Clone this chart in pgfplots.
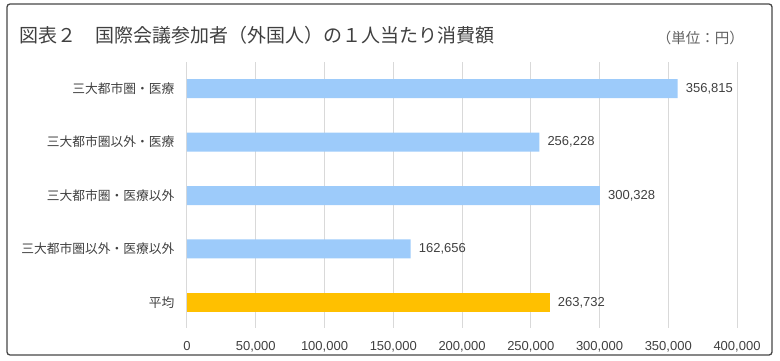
\documentclass[border=0pt]{standalone}
\usepackage{fontspec}
\usepackage{pgfplots}
\pgfplotsset{compat=1.18}
\setmainfont{Liberation Sans}
\newfontfamily\cjk{Noto Sans CJK JP}
\definecolor{barblue}{HTML}{9DCBFA}
\definecolor{barorange}{HTML}{FFC000}
\definecolor{txt}{HTML}{404040}
\definecolor{gridc}{HTML}{D9D9D9}
\begin{document}
\begin{tikzpicture}[x=1pt,y=1pt]
\path[use as bounding box] (0,0) rectangle (780,360);
\draw[color=black!72, line width=1.3pt, rounded corners=3pt] (7,5) rectangle (772,356);
\node[anchor=west, text=txt, inner sep=0pt, font=\cjk\fontsize{19}{22}\selectfont] at (19,325) {図表２　国際会議参加者（外国人）の１人当たり消費額};
\node[anchor=east, text=black!62, inner sep=0pt, font=\cjk\fontsize{14.5}{16}\selectfont] at (744,322) {（単位：円）};
\begin{axis}[at={(187pt,32pt)}, anchor=south west, scale only axis, width=550pt, height=266pt,
  xbar, bar width=19pt, bar shift=0pt,
  xmin=0, xmax=400000, ymin=-0.5, ymax=4.48, y dir=reverse,
  xtick={0,50000,100000,150000,200000,250000,300000,350000,400000},
  xticklabels={0,{50,000},{100,000},{150,000},{200,000},{250,000},{300,000},{350,000},{400,000}},
  scaled x ticks=false,
  xticklabel style={font=\fontsize{13}{15}\selectfont, text=txt, yshift=-10pt},
  ytick={0,1,2,3,4},
  yticklabels={三大都市圏・医療, 三大都市圏以外・医療, 三大都市圏・医療以外, 三大都市圏以外・医療以外, 平均},
  yticklabel style={font=\cjk\fontsize{12.75}{14}\selectfont, text=txt, xshift=-9pt},
  axis line style={draw=none},
  major tick length=0pt,
  xmajorgrids, grid style={gridc, line width=1pt},
]
\addplot[fill=barblue, draw=none] coordinates {(356815,0) (256228,1) (300328,2) (162656,3)};
\addplot[fill=barorange, draw=none] coordinates {(263732,4)};
\node[anchor=west, font=\fontsize{13}{15}\selectfont, text=txt, inner sep=0pt] at (axis cs:356815,0) {\hspace{8pt}356,815};
\node[anchor=west, font=\fontsize{13}{15}\selectfont, text=txt, inner sep=0pt] at (axis cs:256228,1) {\hspace{8pt}256,228};
\node[anchor=west, font=\fontsize{13}{15}\selectfont, text=txt, inner sep=0pt] at (axis cs:300328,2) {\hspace{8pt}300,328};
\node[anchor=west, font=\fontsize{13}{15}\selectfont, text=txt, inner sep=0pt] at (axis cs:162656,3) {\hspace{8pt}162,656};
\node[anchor=west, font=\fontsize{13}{15}\selectfont, text=txt, inner sep=0pt] at (axis cs:263732,4) {\hspace{8pt}263,732};
\end{axis}
\end{tikzpicture}
\end{document}
